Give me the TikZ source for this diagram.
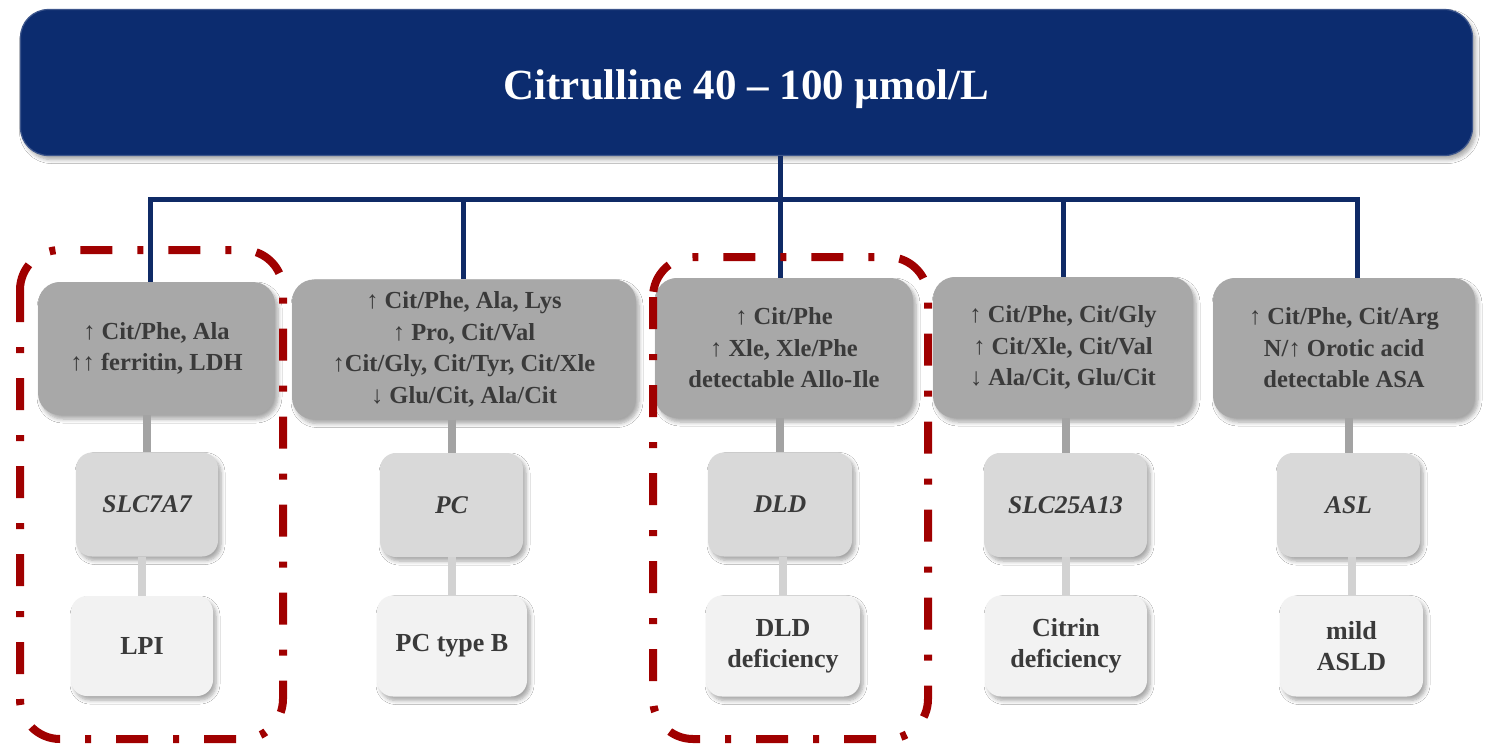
\documentclass[tikz,border=0pt]{standalone}
\usepackage{fontspec}
\setmainfont{Liberation Serif}
\usetikzlibrary{shadows.blur}

\definecolor{navy}{HTML}{0C2C6F}
\definecolor{navyline}{HTML}{0F2A66}
\definecolor{levelA}{HTML}{A8A8A8}
\definecolor{levelB}{HTML}{D9D9D9}
\definecolor{levelC}{HTML}{F2F2F2}
\definecolor{linkA}{HTML}{A3A3A3}
\definecolor{linkB}{HTML}{D2D2D2}
\definecolor{inkgrey}{HTML}{3A3A3A}
\definecolor{frame}{HTML}{A00000}

\newcommand{\upA}{\textmd{↑}}
\newcommand{\dnA}{\textmd{↓}}

\tikzset{
  softshadow/.style={blur shadow={shadow xshift=3pt, shadow yshift=-4pt,
      shadow blur radius=4pt, shadow blur steps=6, shadow opacity=35}},
  titlebox/.style={rectangle, rounded corners=28pt, fill=navy, draw=navy!80!white,
      line width=1.2pt, softshadow, inner sep=0pt},
  titletext/.style={text=white, inner sep=0pt,
      font=\fontsize{43}{50}\bfseries\selectfont},
  markerbox/.style={rectangle, rounded corners=22pt, fill=levelA, softshadow,
      text=inkgrey, align=center, inner sep=0pt,
      font=\fontsize{24.5}{31.5}\bfseries\selectfont},
  genebox/.style={rectangle, rounded corners=16pt, fill=levelB, softshadow,
      text=inkgrey, align=center, inner sep=0pt,
      font=\fontsize{25.5}{31}\bfseries\itshape\selectfont},
  diseasebox/.style={rectangle, rounded corners=16pt, fill=levelC, softshadow,
      text=inkgrey, align=center, inner sep=0pt,
      font=\fontsize{26}{31}\bfseries\selectfont},
  trunk/.style={draw=navyline, line width=5pt},
  linkupper/.style={draw=linkA, line width=8pt},
  linklower/.style={draw=linkB, line width=8pt},
  highlight/.style={draw=frame, line width=8pt, rounded corners=40pt,
      dash pattern=on 32pt off 25pt on 6pt off 25pt},
}

\begin{document}
\begin{tikzpicture}[x=1pt, y=-1pt]
\useasboundingbox (0,0) rectangle (1489,745);
\fill[white] (0,0) rectangle (1489,745);

% head of the tree
\node[titlebox, minimum width=1452pt, minimum height=146pt] (top) at (746.5,82.5) {};
\node[titletext] (title) at (746.5,89) {Citrulline 40 – 100 µmol/L};

% junction points of the navy trunk
\coordinate (hub) at (780,199);
\coordinate (j1) at (150,199);
\coordinate (j2) at (463,199);
\coordinate (j3) at (780,199);
\coordinate (j4) at (1063,199);
\coordinate (j5) at (1357,199);

% biochemical marker boxes
\node[markerbox, minimum width=237pt, minimum height=133pt] (m1) at (156.5,348.5)
  {\upA{} Cit/Phe, Ala\\ \upA\upA{} ferritin, LDH};
\node[markerbox, minimum width=344pt, minimum height=140pt] (m2) at (464,349.5)
  {\upA{} Cit/Phe, Ala, Lys\\ \upA{} Pro, Cit/Val\\ \upA Cit/Gly, Cit/Tyr, Cit/Xle\\ \dnA{} Glu/Cit, Ala/Cit};
\node[markerbox, minimum width=258pt, minimum height=140pt] (m3) at (784,348)
  {\upA{} Cit/Phe\\ \upA{} Xle, Xle/Phe\\ detectable Allo-Ile};
\node[markerbox, minimum width=260pt, minimum height=141pt] (m4) at (1063,347.5)
  {\upA{} Cit/Phe, Cit/Gly\\ \upA{} Cit/Xle, Cit/Val\\ \dnA{} Ala/Cit, Glu/Cit};
\node[markerbox, minimum width=262pt, minimum height=140pt] (m5) at (1344,348)
  {\upA{} Cit/Phe, Cit/Arg\\ N/\upA{} Orotic acid\\ detectable ASA};

% gene boxes
\node[genebox, minimum width=142pt, minimum height=104pt] (g1) at (147,504.5) {SLC7A7};
\node[genebox, minimum width=143pt, minimum height=104pt] (g2) at (451.5,505) {PC};
\node[genebox, minimum width=144pt, minimum height=104pt] (g3) at (780,504.5) {DLD};
\node[genebox, minimum width=163pt, minimum height=104pt] (g4) at (1065.5,505) {SLC25A13};
\node[genebox, minimum width=143pt, minimum height=104pt] (g5) at (1348.5,505) {ASL};

% disorder boxes
\node[diseasebox, minimum width=142pt, minimum height=100pt] (d1) at (142,646) {LPI};
\node[diseasebox, minimum width=150pt, minimum height=101pt] (d2) at (452,646) {PC type B};
\node[diseasebox, minimum width=154pt, minimum height=101pt] (d3) at (783,646) {DLD\\ deficiency};
\node[diseasebox, minimum width=162pt, minimum height=101pt] (d4) at (1066,646) {Citrin\\ deficiency};
\node[diseasebox, minimum width=143pt, minimum height=101pt] (d5) at (1351.5,646) {mild\\ ASLD};

% navy trunk and branches
\draw[trunk] (top.south -| hub) -- (hub);
\draw[trunk, line cap=rect] (j1) -- (j5);
\draw[trunk] (j1) -- (j1 |- m1.north);
\draw[trunk] (j2) -- (j2 |- m2.north);
\draw[trunk] (j3) -- (j3 |- m3.north);
\draw[trunk] (j4) -- (j4 |- m4.north);
\draw[trunk] (j5) -- (j5 |- m5.north);

% grey links between levels
\draw[linkupper] (m1.south -| g1) -- (g1.north);
\draw[linkupper] (m2.south -| g2) -- (g2.north);
\draw[linkupper] (m3.south -| g3) -- (g3.north);
\draw[linkupper] (m4.south -| g4) -- (g4.north);
\draw[linkupper] (m5.south -| g5) -- (g5.north);
\draw[linklower] (g1.south -| d1) -- (d1.north);
\draw[linklower] (g2.south -| d2) -- (d2.north);
\draw[linklower] (g3.south -| d3) -- (d3.north);
\draw[linklower] (g4.south -| d4) -- (d4.north);
\draw[linklower] (g5.south -| d5) -- (d5.north);

% highlighted columns
\draw[highlight] (20,250) rectangle (283,739);
\draw[highlight] (653,257) rectangle (928,739);
\end{tikzpicture}
\end{document}
